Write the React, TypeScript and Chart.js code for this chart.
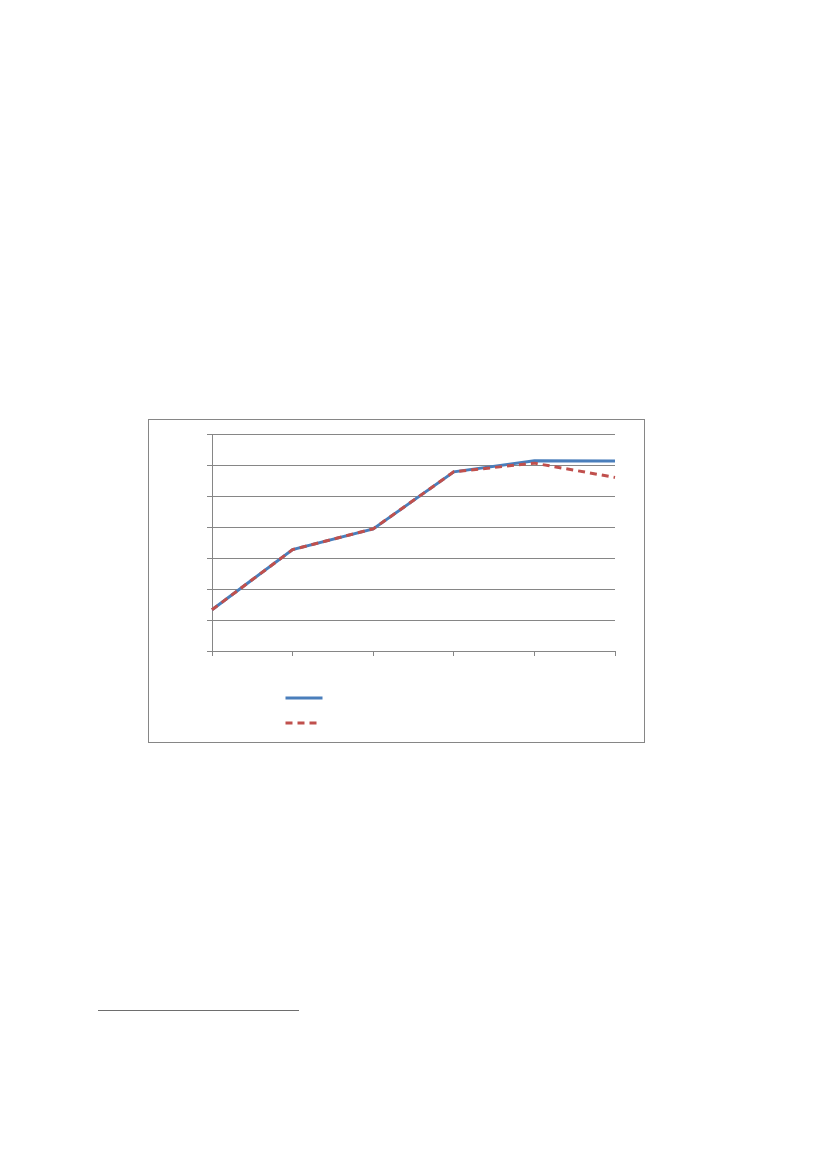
import React, { useEffect, useRef } from "react";
import { Chart, registerables } from "chart.js";

Chart.register(...registerables);

// Category labels (text is not shown in the reference)
const categories: string[] = ["", "", "", "", "", ""];
// Series values (axis 0..7)
const seriesA: number[] = [1.33, 3.27, 3.94, 5.78, 6.14, 6.13];
const seriesB: number[] = [1.33, 3.27, 3.94, 5.78, 6.06, 5.6];
const seriesNames: string[] = ["", ""];
const yMin = 0;
const yMax = 7;
const yStep = 1;

const legendPlugin = {
  id: "stackedLegend",
  afterDraw(chart: any) {
    const { ctx, chartArea } = chart;
    const x0 = chartArea.left + 73.5;
    const yBase = chartArea.bottom + 47;
    const lengths = [37, 32];
    chart.data.datasets.forEach((ds: any, i: number) => {
      const y = yBase + i * 25;
      ctx.save();
      ctx.strokeStyle = ds.borderColor;
      ctx.lineWidth = ds.borderWidth;
      ctx.setLineDash(ds.borderDash || []);
      ctx.lineCap = "butt";
      ctx.beginPath();
      ctx.moveTo(x0, y);
      ctx.lineTo(x0 + lengths[i % lengths.length], y);
      ctx.stroke();
      ctx.restore();
    });
  },
};

export default function App() {
  const ref = useRef<HTMLCanvasElement | null>(null);
  useEffect(() => {
    if (!ref.current) return;
    const chart = new Chart(ref.current, {
      type: "line",
      data: {
        labels: categories,
        datasets: [
          {
            label: seriesNames[0],
            data: seriesA,
            borderColor: "#4a7ebb",
            backgroundColor: "#4a7ebb",
            borderWidth: 3,
            pointRadius: 0,
            tension: 0,
            fill: false,
            order: 2,
          },
          {
            label: seriesNames[1],
            data: seriesB,
            borderColor: "#c0504d",
            backgroundColor: "#c0504d",
            borderWidth: 3,
            borderDash: [7, 5],
            pointRadius: 0,
            tension: 0,
            fill: false,
            order: 1,
          },
        ],
      },
      options: {
        animation: false,
        responsive: false,
        maintainAspectRatio: false,
        layout: { padding: { left: 58, right: 29, top: 14, bottom: 86 } },
        plugins: {
          legend: { display: false },
          tooltip: { enabled: false },
        },
        scales: {
          x: {
            offset: false,
            grid: {
              drawOnChartArea: false,
              drawTicks: true,
              tickLength: 5,
              color: "#868686",
            },
            border: { display: true, color: "#868686" },
            ticks: { display: false },
          },
          y: {
            min: yMin,
            max: yMax,
            grid: {
              drawOnChartArea: true,
              drawTicks: true,
              tickLength: 5,
              color: "#868686",
            },
            border: { display: true, color: "#868686" },
            ticks: { display: false, stepSize: yStep },
          },
        },
      },
      plugins: [legendPlugin],
    });
    return () => chart.destroy();
  }, []);

  return (
    <div>
      <div
        style={{
          position: "absolute",
          left: 148,
          top: 419,
          width: 495,
          height: 322,
          border: "1px solid #868686",
          background: "#fff",
        }}
      >
        <canvas ref={ref} width={495} height={322} style={{ display: "block" }} />
      </div>
      <div
        style={{
          position: "absolute",
          left: 98,
          top: 1010,
          width: 201,
          height: 0,
          borderTop: "1.5px solid #6e6e6e",
        }}
      />
    </div>
  );
}
